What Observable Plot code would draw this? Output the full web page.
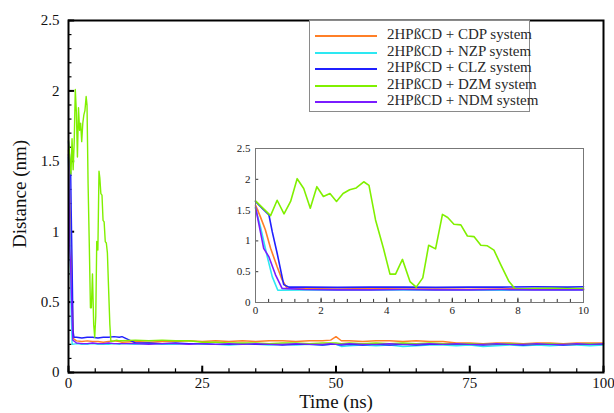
<!DOCTYPE html>
<html><head><meta charset="utf-8">
<script src="https://cdn.jsdelivr.net/npm/d3@7"></script>
<script src="https://cdn.jsdelivr.net/npm/@observablehq/plot@0.6"></script>
<style>
body{margin:0;background:#fff;}
#wrap{position:relative;width:614px;height:413px;font-family:"Liberation Serif","Times New Roman",serif;color:#111;}
#main{position:absolute;left:0;top:0;}
#inset{position:absolute;left:225px;top:140px;}
.ttl{position:absolute;font-size:19px;white-space:nowrap;color:#111;}
#ylab{left:20px;top:194px;transform:translate(-50%,-50%) rotate(-90deg);}
#xlab{left:336px;top:402px;transform:translate(-50%,-50%);}
#legend{position:absolute;left:309px;top:20px;width:221px;height:92px;border:1px solid #8a8a8a;background:#fff;box-sizing:border-box;}
.lrow{position:absolute;left:0;height:16px;width:100%;}
.lsw{position:absolute;left:5px;top:8px;width:62px;height:2px;}
.ltx{position:absolute;left:77px;top:-1px;font-size:15px;color:#2a2a2a;white-space:nowrap;}
</style></head><body>
<div id="wrap">
  <div id="main"></div>
  <div id="legend"></div>
  <div id="inset"></div>
  <div class="ttl" id="ylab">Distance (nm)</div>
  <div class="ttl" id="xlab">Time (ns)</div>
</div>
<script>
// ---- series ----
const seriesNames = ["2HPßCD + CDP system", "2HPßCD + NZP system", "2HPßCD + CLZ system", "2HPßCD + DZM system", "2HPßCD + NDM system"];
const seriesColors = ["#ff7f27", "#2de8f2", "#2020ff", "#80f000", "#7a1cff"];

// ---- axis ticks ----
const xMajor = [0, 25, 50, 75, 100];
const yMajor = [0, 0.5, 1, 1.5, 2, 2.5];
const insetXLabels = [0, 2, 4, 6, 8, 10];
const insetYLabels = [0, 0.5, 1, 1.5, 2, 2.5];

// ---- shared time grid for 10-100 ns ----
const lateT = [10, 12.5, 15, 17.5, 20, 22.5, 25, 27.5, 30, 32.5, 35, 37.5, 40, 42.5, 45, 47.5, 49, 50, 51, 52.5, 55, 57.5, 60, 62.5, 65, 67.5, 70, 72.5, 75, 77.5, 80, 82.5, 85, 87.5, 90, 92.5, 95, 97.5, 100];

// CDP (orange)
const cdpEarlyT = [0, 0.15, 0.3, 0.46, 0.66, 0.81, 0.95, 1.5, 2.5, 3.5, 4.5, 5.5, 6.5, 7.5, 8.5, 9.5];
const cdpEarlyD = [1.58, 1.39, 1.18, 0.88, 0.58, 0.37, 0.24, 0.225, 0.22, 0.225, 0.22, 0.22, 0.215, 0.22, 0.225, 0.22];
const cdpLateD = [0.215, 0.22, 0.215, 0.22, 0.22, 0.225, 0.22, 0.225, 0.22, 0.225, 0.22, 0.225, 0.225, 0.22, 0.225, 0.225, 0.23, 0.255, 0.225, 0.225, 0.22, 0.225, 0.225, 0.22, 0.225, 0.22, 0.22, 0.21, 0.21, 0.205, 0.21, 0.21, 0.205, 0.21, 0.21, 0.205, 0.21, 0.21, 0.21];

// NZP (cyan)
const nzpEarlyT = [0, 0.15, 0.36, 0.51, 0.68, 1.5, 2.5, 3.5, 4.5, 5.5, 6.5, 7.5, 8.5, 9.5];
const nzpEarlyD = [1.53, 1.23, 0.74, 0.42, 0.2, 0.205, 0.2, 0.2, 0.205, 0.2, 0.2, 0.2, 0.205, 0.2];
const nzpLateD = [0.205, 0.2, 0.205, 0.2, 0.2, 0.205, 0.2, 0.2, 0.195, 0.2, 0.2, 0.195, 0.2, 0.195, 0.2, 0.195, 0.2, 0.2, 0.185, 0.19, 0.195, 0.19, 0.195, 0.185, 0.19, 0.195, 0.195, 0.19, 0.195, 0.185, 0.19, 0.195, 0.19, 0.195, 0.19, 0.195, 0.195, 0.19, 0.195];

// CLZ (blue)
const clzEarlyT = [0, 0.2, 0.41, 0.51, 0.66, 0.86, 1.02, 1.5, 2.5, 3.5, 4.5, 5.5, 6.5, 7.5, 8.5, 9.5];
const clzEarlyD = [1.64, 1.53, 1.42, 1.15, 0.8, 0.29, 0.25, 0.25, 0.245, 0.25, 0.25, 0.245, 0.25, 0.25, 0.255, 0.25];
const clzLateD = [0.255, 0.21, 0.21, 0.205, 0.21, 0.205, 0.205, 0.2, 0.2, 0.205, 0.2, 0.2, 0.195, 0.2, 0.2, 0.195, 0.2, 0.2, 0.195, 0.2, 0.195, 0.2, 0.195, 0.2, 0.195, 0.2, 0.2, 0.2, 0.2, 0.195, 0.2, 0.2, 0.195, 0.2, 0.2, 0.195, 0.2, 0.2, 0.2];

// DZM (green)
const dzmEarlyT = [0, 0.46, 0.66, 0.87, 1.07, 1.27, 1.47, 1.67, 1.87, 2.07, 2.27, 2.47, 2.67, 2.87, 3.07, 3.3, 3.46, 3.66, 3.9, 4.1, 4.27, 4.48, 4.71, 4.9, 5.1, 5.28, 5.49, 5.7, 5.86, 6.05, 6.26, 6.46, 6.66, 6.87, 7.07, 7.27, 7.48, 7.73, 7.92, 8.5, 9.0, 9.5];
const dzmEarlyD = [1.65, 1.41, 1.66, 1.44, 1.64, 2.01, 1.85, 1.53, 1.88, 1.72, 1.77, 1.64, 1.77, 1.83, 1.86, 1.96, 1.9, 1.34, 0.88, 0.46, 0.46, 0.7, 0.34, 0.25, 0.4, 0.93, 0.87, 1.43, 1.38, 1.27, 1.26, 1.08, 1.07, 0.93, 0.92, 0.85, 0.61, 0.34, 0.22, 0.225, 0.23, 0.225];
const dzmLateD = [0.225, 0.23, 0.225, 0.23, 0.225, 0.225, 0.215, 0.215, 0.21, 0.21, 0.21, 0.205, 0.21, 0.21, 0.205, 0.21, 0.21, 0.21, 0.205, 0.21, 0.205, 0.21, 0.205, 0.21, 0.205, 0.21, 0.205, 0.205, 0.205, 0.2, 0.205, 0.205, 0.2, 0.205, 0.205, 0.2, 0.205, 0.205, 0.205];

// NDM (purple)
const ndmEarlyT = [0, 0.25, 0.41, 0.61, 0.81, 1.5, 2.5, 3.5, 4.5, 5.5, 6.5, 7.5, 8.5, 9.5];
const ndmEarlyD = [1.55, 0.88, 0.74, 0.45, 0.23, 0.21, 0.205, 0.205, 0.21, 0.205, 0.205, 0.21, 0.205, 0.205];
const ndmLateD = [0.205, 0.205, 0.2, 0.205, 0.205, 0.2, 0.205, 0.2, 0.205, 0.2, 0.205, 0.2, 0.2, 0.205, 0.2, 0.2, 0.205, 0.2, 0.2, 0.205, 0.2, 0.2, 0.205, 0.2, 0.2, 0.205, 0.2, 0.205, 0.2, 0.2, 0.205, 0.2, 0.2, 0.205, 0.2, 0.2, 0.205, 0.2, 0.205];

const parts = [[cdpEarlyT, cdpEarlyD, cdpLateD], [nzpEarlyT, nzpEarlyD, nzpLateD], [clzEarlyT, clzEarlyD, clzLateD], [dzmEarlyT, dzmEarlyD, dzmLateD], [ndmEarlyT, ndmEarlyD, ndmLateD]];

const rows = [];
parts.forEach(([eT, eD, lD], i) => {
  eT.forEach((t, j) => rows.push({name: seriesNames[i], t, d: eD[j]}));
  lateT.forEach((t, j) => rows.push({name: seriesNames[i], t, d: lD[j]}));
});

const fmt = d => String(d);
const colorScale = {domain: seriesNames, range: seriesColors};

// inward tick helpers (lengths expressed in data units of the other axis)
const xTicks = (vals, len, opts) => Plot.ruleX(vals, {x: d => d, y1: () => 0, y2: () => len, ...opts});
const yTicks = (vals, len, opts) => Plot.ruleY(vals, {y: d => d, x1: () => 0, x2: () => len, ...opts});

// ---- main chart ----
const main = Plot.plot({
  width: 614, height: 413,
  marginLeft: 68, marginRight: 11, marginTop: 20, marginBottom: 41,
  style: {fontFamily: "Liberation Serif", fontSize: "15px", color: "#111", background: "transparent", overflow: "visible"},
  color: colorScale,
  x: {domain: [0, 100], ticks: xMajor, tickSize: 0, tickPadding: 5, label: null, tickFormat: fmt},
  y: {domain: [0, 2.5], ticks: yMajor, tickSize: 0, tickPadding: 9, label: null, tickFormat: fmt},
  marks: [
    xTicks(d3.range(0, 101, 5), 0.026, {stroke: "#000", strokeWidth: 1.2}),
    xTicks(xMajor, 0.045, {stroke: "#000", strokeWidth: 2}),
    yTicks(d3.range(0, 26).map(i => i / 10), 0.65, {stroke: "#000", strokeWidth: 1.2}),
    yTicks(yMajor, 1.15, {stroke: "#000", strokeWidth: 2}),
    Plot.line(rows, {x: "t", y: "d", z: "name", stroke: "name", strokeWidth: 1.4}),
    Plot.frame({stroke: "#000", strokeWidth: 2})
  ]
});
document.getElementById("main").appendChild(main);

// ---- inset ----
const insetRows = rows.filter(r => r.t <= 10);
const inset = Plot.plot({
  width: 370, height: 185,
  marginLeft: 30, marginRight: 12, marginTop: 8, marginBottom: 23,
  style: {fontFamily: "Liberation Serif", fontSize: "11px", color: "#222", background: "#fff", overflow: "visible"},
  color: colorScale,
  x: {domain: [0, 10], ticks: insetXLabels, tickSize: 0, tickPadding: 4, label: null, tickFormat: fmt},
  y: {domain: [0, 2.5], ticks: insetYLabels, tickSize: 0, tickPadding: 5, label: null, tickFormat: fmt},
  marks: [
    xTicks(d3.range(0, 26).map(i => i * 0.4), 0.05, {stroke: "#333", strokeWidth: 1}),
    xTicks(insetXLabels, 0.07, {stroke: "#333", strokeWidth: 1}),
    yTicks(insetYLabels, 0.1, {stroke: "#333", strokeWidth: 1}),
    Plot.line(insetRows, {x: "t", y: "d", z: "name", stroke: "name", strokeWidth: 1.6}),
    Plot.frame({stroke: "#777", strokeWidth: 1})
  ]
});
document.getElementById("inset").appendChild(inset);

// ---- legend ----
const legend = document.getElementById("legend");
seriesNames.forEach((n, i) => {
  const r = document.createElement("div");
  r.className = "lrow";
  r.style.top = (6 + i * 16.5) + "px";
  r.innerHTML = `<div class="lsw" style="background:${seriesColors[i]}"></div><div class="ltx">${n}</div>`;
  legend.appendChild(r);
});
</script>
</body></html>
